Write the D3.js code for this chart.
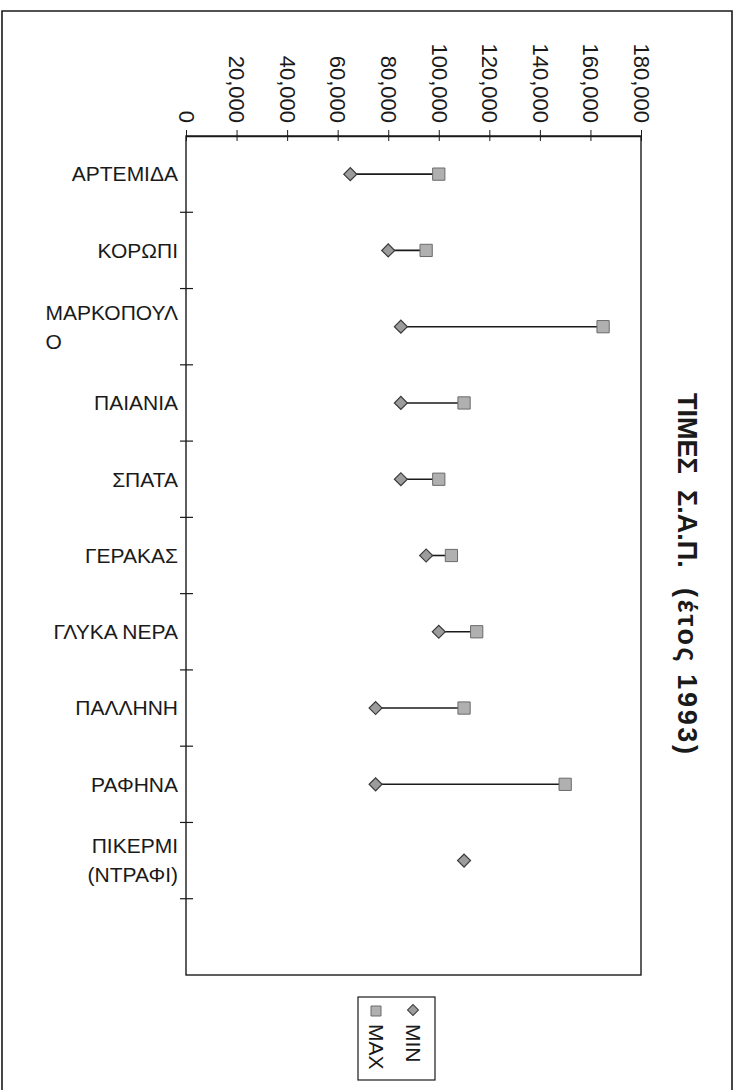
<!DOCTYPE html>
<html>
<head>
<meta charset="utf-8">
<script src="https://cdn.jsdelivr.net/npm/d3@7/dist/d3.min.js"></script>
<style>
  html, body { margin: 0; padding: 0; background: #fff; }
  svg { display: block; font-family: "Liberation Sans", Arial, sans-serif; }
</style>
</head>
<body>
<svg id="chart" width="739" height="1090"></svg>
<script>
// Municipalities (each entry = label lines; last band is left empty)
const categories = [
  ["ΑΡΤΕΜΙΔΑ"],
  ["ΚΟΡΩΠΙ"],
  ["ΜΑΡΚΟΠΟΥΛ", "Ο"],
  ["ΠΑΙΑΝΙΑ"],
  ["ΣΠΑΤΑ"],
  ["ΓΕΡΑΚΑΣ"],
  ["ΓΛΥΚΑ ΝΕΡΑ"],
  ["ΠΑΛΛΗΝΗ"],
  ["ΡΑΦΗΝΑ"],
  ["ΠΙΚΕΡΜΙ", "(ΝΤΡΑΦΙ)"],
  []
];
const minValues = [65000, 80000, 85000, 85000, 85000, 95000, 100000, 75000, 75000, 110000];
const maxValues = [100000, 95000, 165000, 110000, 100000, 105000, 115000, 110000, 150000, null];
const valueTicks = [0, 20000, 40000, 60000, 80000, 100000, 120000, 140000, 160000, 180000];
const seriesNames = ["MIN", "MAX"];
const titleWords = ["ΤΙΜΕΣ", "Σ.Α.Π.", "(έτος 1993)"];

const svg = d3.select("#chart");
const plot = { left: 186, right: 641, top: 136, bottom: 975 };

const keys = categories.map((_, i) => "c" + i);
const x = d3.scaleLinear().domain([0, 180000]).range([plot.left, plot.right]);
const y = d3.scaleBand().domain(keys).range([plot.top, plot.bottom]).padding(0);

const ink = "#1a1a1a";

// page frame
svg.append("path")
  .attr("d", "M2,1090V11H732V1090")
  .attr("fill", "none").attr("stroke", ink).attr("stroke-width", 1.6);

// plot frame
svg.append("rect")
  .attr("x", plot.left).attr("y", plot.top)
  .attr("width", plot.right - plot.left).attr("height", plot.bottom - plot.top)
  .attr("fill", "none").attr("stroke", ink).attr("stroke-width", 1.4);

// value axis along the top edge
const xAxis = svg.append("g")
  .attr("transform", `translate(0,${plot.top})`)
  .call(d3.axisTop(x).tickValues(valueTicks).tickSizeOuter(0).tickSizeInner(6)
        .tickFormat(d => d === 0 ? "0" : d3.format(",")(d)));
xAxis.select(".domain").attr("stroke", ink).attr("stroke-width", 1.4);
xAxis.selectAll(".tick line").attr("y1", -6).attr("y2", 5).attr("stroke", ink);
xAxis.selectAll(".tick text")
  .attr("font-size", 22).attr("fill", ink)
  .attr("transform", "translate(0,-13) rotate(90)")
  .attr("x", 0).attr("y", 0).attr("dy", "0.35em")
  .attr("text-anchor", "end");

// category axis on the left
const catAxis = svg.append("g");
const boundaries = keys.map(k => y(k) + y.bandwidth()).slice(0, -1);
catAxis.selectAll("line.tick")
  .data(boundaries)
  .join("line")
  .attr("x1", plot.left - 6).attr("x2", plot.left + 7)
  .attr("y1", d => d).attr("y2", d => d)
  .attr("stroke", ink).attr("stroke-width", 1.2);

const labelRight = plot.left - 8;
const lineGap = 29;
const labels = catAxis.selectAll("text.cat")
  .data(categories.map((lines, i) => ({ lines, key: keys[i] })))
  .join("text")
  .attr("class", "cat")
  .attr("font-size", 21)
  .attr("fill", ink);

labels.each(function (d) {
  const t = d3.select(this);
  const cy = y(d.key) + y.bandwidth() / 2;
  const n = d.lines.length;
  // a word broken across lines continues from the left edge of its first line
  const brokenWord = n > 1 && !d.lines.join("").includes(" ") && d.lines[0].indexOf("(") < 0 && d.lines[1].indexOf("(") < 0;
  let firstLeft = null;
  d.lines.forEach((line, j) => {
    const ts = t.append("tspan")
      .text(line)
      .attr("y", cy + (j - (n - 1) / 2) * lineGap)
      .attr("dy", "0.35em");
    if (j > 0 && brokenWord) {
      ts.attr("x", firstLeft).attr("text-anchor", "start");
    } else {
      ts.attr("x", labelRight).attr("text-anchor", "end");
    }
    if (j === 0) {
      firstLeft = labelRight - ts.node().getComputedTextLength();
    }
  });
});

// min-max connectors
const rows = minValues.map((mn, i) => ({ key: keys[i], min: mn, max: maxValues[i] }));
svg.append("g").selectAll("line")
  .data(rows.filter(r => r.max != null))
  .join("line")
  .attr("x1", d => x(d.min)).attr("x2", d => x(d.max))
  .attr("y1", d => y(d.key) + y.bandwidth() / 2)
  .attr("y2", d => y(d.key) + y.bandwidth() / 2)
  .attr("stroke", ink).attr("stroke-width", 1.6);

const diamond = d3.symbol().type(d3.symbolSquare).size(84);
const square = d3.symbol().type(d3.symbolSquare).size(150);
const minFill = "#9c9c9c", minStroke = "#3a3a3a";
const maxFill = "#b0b0b0", maxStroke = "#6a6a6a";

// MAX markers
svg.append("g").selectAll("path")
  .data(rows.filter(r => r.max != null))
  .join("path")
  .attr("d", square)
  .attr("transform", d => `translate(${x(d.max)},${y(d.key) + y.bandwidth() / 2})`)
  .attr("fill", maxFill).attr("stroke", maxStroke).attr("stroke-width", 1);

// MIN markers
svg.append("g").selectAll("path")
  .data(rows)
  .join("path")
  .attr("d", diamond)
  .attr("transform", d => `translate(${x(d.min)},${y(d.key) + y.bandwidth() / 2}) rotate(45)`)
  .attr("fill", minFill).attr("stroke", minStroke).attr("stroke-width", 1.2);

// title, set vertically along the right side
const title = svg.append("text")
  .attr("transform", "translate(687,393) rotate(90)")
  .attr("text-anchor", "start").attr("dy", "0.35em")
  .attr("font-size", 27).attr("font-weight", "bold").attr("fill", ink);
const titleOffsets = [0, 97, 195];
titleWords.forEach((w, i) => {
  const ts = title.append("tspan").attr("x", titleOffsets[i]).text(w);
  if (i === titleWords.length - 1) ts.attr("textLength", 166).attr("lengthAdjust", "spacing");
});

// legend
const legend = svg.append("g");
legend.append("rect")
  .attr("x", 358).attr("y", 997).attr("width", 77).attr("height", 83)
  .attr("fill", "#fff").attr("stroke", ink).attr("stroke-width", 1.2);
const legendX = [413, 376];
seriesNames.forEach((name, i) => {
  const g = legend.append("g");
  if (i === 0) {
    g.append("path").attr("d", d3.symbol().type(d3.symbolSquare).size(60))
      .attr("transform", `translate(${legendX[i]},1010) rotate(45)`)
      .attr("fill", minFill).attr("stroke", minStroke);
  } else {
    g.append("path").attr("d", d3.symbol().type(d3.symbolSquare).size(100))
      .attr("transform", `translate(${legendX[i]},1011)`)
      .attr("fill", maxFill).attr("stroke", maxStroke);
  }
  g.append("text")
    .attr("transform", `translate(${legendX[i]},1024) rotate(90)`)
    .attr("dy", "0.35em").attr("text-anchor", "start")
    .attr("font-size", 21).attr("fill", ink)
    .text(name);
});
</script>
</body>
</html>
